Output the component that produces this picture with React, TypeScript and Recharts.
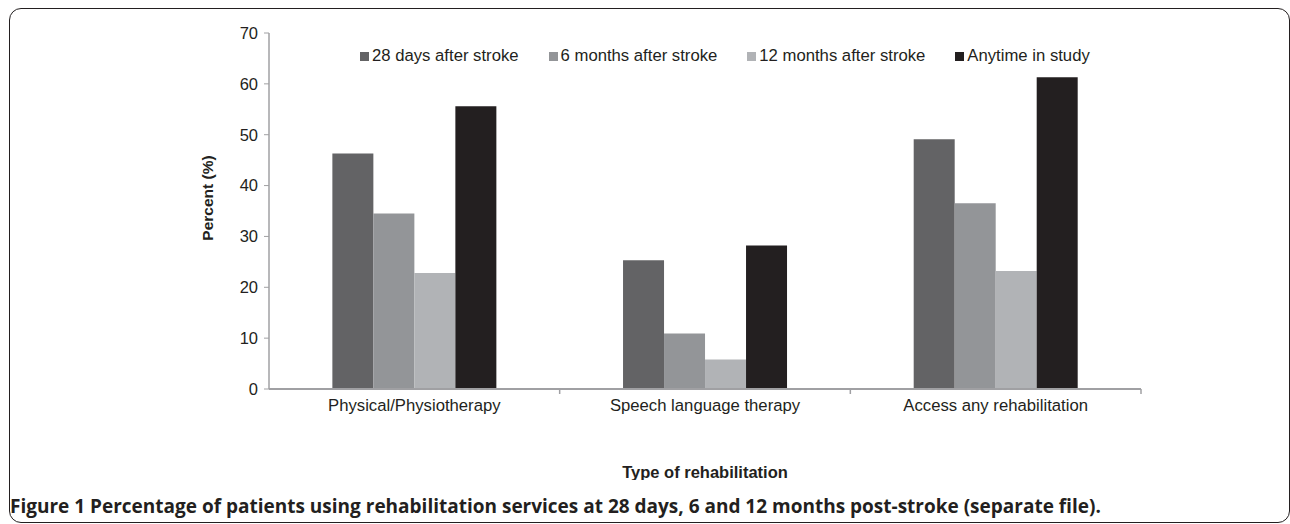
import { BarChart, Bar, XAxis, YAxis, Label } from 'recharts';

const categories = ['Physical/Physiotherapy', 'Speech language therapy', 'Access any rehabilitation'];
const days28 = [46.3, 25.3, 49.1];
const months6 = [34.5, 10.9, 36.5];
const months12 = [22.8, 5.8, 23.2];
const anytime = [55.6, 28.2, 61.3];
const yTicks = [0, 10, 20, 30, 40, 50, 60, 70];

const seriesKeys = ['d28', 'm6', 'm12', 'any'];
const seriesNames = ['28 days after stroke', '6 months after stroke', '12 months after stroke', 'Anytime in study'];
const seriesColors = ['#636365', '#939598', '#b1b3b6', '#231f20'];

const data = categories.map((name, i) => ({
  name,
  d28: days28[i],
  m6: months6[i],
  m12: months12[i],
  any: anytime[i],
}));

const INK = '#231f20';
const AXIS = '#a0a0a3';
const FONT = '"Liberation Sans", Arial, sans-serif';

const CategoryTick = (props: any) => {
  const { x, y, payload } = props;
  const half = payload?.offset ?? 0;
  return (
    <g>
      <line x1={x + half} y1={y} x2={x + half} y2={y + 5} stroke={AXIS} strokeWidth={1.5} />
      <text x={x} y={y + 22} textAnchor="middle" fill={INK} fontSize={16.7} fontFamily={FONT}>
        {payload.value}
      </text>
    </g>
  );
};

// y title sits a little above the plot's middle in the original
const PercentLabel = (props: any) => {
  const vb = props.viewBox || {};
  const cx = vb.x + vb.width / 2 - 32;
  const cy = vb.y + vb.height / 2 - 13;
  return (
    <text
      x={cx}
      y={cy}
      transform={`rotate(-90, ${cx}, ${cy})`}
      textAnchor="middle"
      dominantBaseline="central"
      fill={INK}
      fontSize={15.5}
      fontWeight="bold"
      fontFamily={FONT}
    >
      Percent (%)
    </text>
  );
};

function ChartLegend() {
  return (
    <div
      style={{
        position: 'absolute',
        left: 360,
        top: 46,
        display: 'flex',
        fontFamily: FONT,
        fontSize: 16.7,
        color: INK,
        whiteSpace: 'nowrap',
      }}
    >
      {seriesNames.map((n, i) => (
        <div key={n} style={{ display: 'flex', alignItems: 'center', marginRight: 30 }}>
          <span style={{ width: 9, height: 9, background: seriesColors[i], marginRight: 3, display: 'inline-block' }} />
          <span>{n}</span>
        </div>
      ))}
    </div>
  );
}

export default function App() {
  return (
    <div style={{ position: 'absolute', left: 0, top: 0, width: 1290, height: 524, background: '#fff', overflow: 'hidden' }}>
      <div
        style={{
          position: 'absolute',
          left: 9,
          top: 8,
          width: 1281,
          height: 515,
          border: `1.5px solid ${INK}`,
          borderRadius: 12,
          boxSizing: 'border-box',
        }}
      />
      <div style={{ position: 'absolute', left: 0, top: 0 }}>
        <BarChart
          width={1160}
          height={480}
          data={data}
          margin={{ top: 33, right: 19, bottom: 0, left: 209 }}
          barCategoryGap="21.8%"
          barGap={0}
        >
          <XAxis
            dataKey="name"
            height={91}
            axisLine={{ stroke: AXIS, strokeWidth: 2 }}
            tickLine={false}
            tickSize={0}
            tickMargin={0}
            tick={<CategoryTick />}
            interval={0}
          >
            <Label
              value="Type of rehabilitation"
              position="insideBottom"
              offset={2}
              style={{ fontFamily: FONT, fontSize: 16.5, fontWeight: 'bold', fill: INK }}
            />
          </XAxis>
          <YAxis
            width={60}
            domain={[0, 70]}
            ticks={yTicks}
            interval={0}
            axisLine={{ stroke: AXIS, strokeWidth: 1.5 }}
            tickLine={{ stroke: AXIS }}
            tickSize={5}
            tickMargin={6}
            tick={{ fill: INK, fontSize: 16.5, fontFamily: FONT }}
          >
            <Label content={<PercentLabel />} />
          </YAxis>
          {seriesKeys.map((k, i) => (
            <Bar key={k} dataKey={k} name={seriesNames[i]} fill={seriesColors[i]} isAnimationActive={false} />
          ))}
        </BarChart>
      </div>
      <ChartLegend />
      <div
        style={{
          position: 'absolute',
          left: 10,
          top: 493,
          fontFamily: '"Open Sans", sans-serif',
          fontWeight: 'bold',
          fontSize: 19,
          lineHeight: '26px',
          color: INK,
          whiteSpace: 'nowrap',
        }}
      >
        Figure 1 Percentage of patients using rehabilitation services at 28 days, 6 and 12 months post-stroke (separate file).
      </div>
    </div>
  );
}
